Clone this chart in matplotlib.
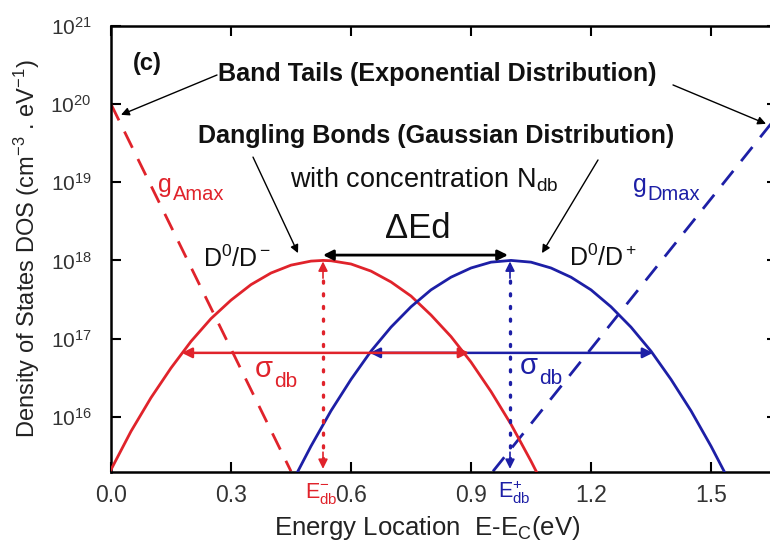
import matplotlib
matplotlib.use("Agg")
import matplotlib.pyplot as plt
from matplotlib.ticker import FixedLocator, NullLocator
from matplotlib.transforms import blended_transform_factory

plt.rcParams['font.family'] = ['Liberation Sans', 'DejaVu Sans']
plt.rcParams['mathtext.fontset'] = 'custom'
plt.rcParams['mathtext.rm'] = 'Liberation Sans'
plt.rcParams['mathtext.it'] = 'Liberation Sans'
plt.rcParams['mathtext.bf'] = 'Liberation Sans:bold'

RED = '#e0232b'
BLUE = '#1d1fa6'

# acceptor-like dangling bond band (D0/D-)
red_x = [0.00, 0.05, 0.10, 0.15, 0.20, 0.25, 0.30, 0.35, 0.40, 0.45, 0.50, 0.53,
         0.55, 0.60, 0.65, 0.70, 0.75, 0.80, 0.85, 0.90, 0.95, 1.00, 1.05, 1.07]
red_dos = [2.1e15, 6.5e15, 1.75e16, 4.2e16, 9.2e16, 1.8e17, 3.1e17, 4.9e17, 6.9e17,
           8.7e17, 9.8e17, 1.0e18, 9.9e17, 9.0e17, 7.3e17, 5.3e17, 3.5e17, 2.0e17,
           1.06e17, 5.0e16, 2.1e16, 8.0e15, 2.7e15, 1.7e15]

# donor-like dangling bond band (D0/D+)
blue_x = [0.46, 0.50, 0.55, 0.60, 0.65, 0.70, 0.75, 0.80, 0.85, 0.90, 0.95, 1.00,
          1.05, 1.10, 1.15, 1.20, 1.25, 1.30, 1.35, 1.40, 1.45, 1.50, 1.54]
blue_dos = [1.7e15, 4.2e15, 1.19e16, 3.0e16, 6.9e16, 1.4e17, 2.55e17, 4.2e17, 6.1e17,
            8.0e17, 9.5e17, 1.0e18, 9.5e17, 8.0e17, 6.1e17, 4.2e17, 2.55e17, 1.4e17,
            6.9e16, 3.0e16, 1.19e16, 4.2e15, 1.7e15]

# band tails (exponential)
tail_a_x = [0.0, 0.45]
tail_a_dos = [1.0e20, 2.0e15]
tail_d_x = [0.955, 1.665]
tail_d_dos = [2.0e15, 7.0e19]

e_db_minus = 0.53
e_db_plus = 0.9975
n_db = 1.0e18
bottom_dos = 2.15e15
delta_y = 1.17e18
sigma_y = 6.56e16
sigma_red = [0.177, 0.895]
sigma_blue = [0.647, 1.355]

x_ticks = [0.0, 0.3, 0.6, 0.9, 1.2, 1.5]
x_ticklabels = ['0.0', '0.3', '0.6', '0.9', '1.2', '1.5']
y_ticks = [1e16, 1e17, 1e18, 1e19, 1e20, 1e21]

fig = plt.figure(figsize=(7.7, 5.42), dpi=100)
ax = fig.add_axes([111 / 770, 70 / 542, 666 / 770, 446 / 542])
ax.set_yscale('log')
ax.set_xlim(0, 1.665)
ax.set_ylim(1.96e15, 1e21)

dash = (0, (6.5, 4.5))
ax.plot(red_x, red_dos, color=RED, lw=2.0, zorder=3)
ax.plot(blue_x, blue_dos, color=BLUE, lw=2.0, zorder=3)
ax.plot(tail_a_x, tail_a_dos, color=RED, lw=2.0, ls=dash, zorder=2)
ax.plot(tail_d_x, tail_d_dos, color=BLUE, lw=2.0, ls=dash, zorder=2)

# dotted verticals at the band centres with arrow heads
for x0, c in [(e_db_minus, RED), (e_db_plus, BLUE)]:
    ax.plot([x0, x0], [bottom_dos * 1.3, n_db * 0.8], color=c, lw=2.4,
            ls=(0, (0.6, 3.2)), dash_capstyle='round', zorder=4)
    ax.annotate('', xy=(x0, n_db * 0.97), xytext=(0, -12), textcoords='offset points',
                arrowprops=dict(arrowstyle='-|>', color=c, lw=1.2, mutation_scale=14,
                                shrinkA=0, shrinkB=0), zorder=5)
    ax.annotate('', xy=(x0, bottom_dos), xytext=(0, 12), textcoords='offset points',
                arrowprops=dict(arrowstyle='-|>', color=c, lw=1.2, mutation_scale=14,
                                shrinkA=0, shrinkB=0), zorder=5)

# sigma arrows
ax.annotate('', xy=(sigma_blue[0], sigma_y), xytext=(sigma_blue[1], sigma_y),
            arrowprops=dict(arrowstyle='<|-|>', color=BLUE, lw=1.8, mutation_scale=15,
                            shrinkA=0, shrinkB=0), zorder=4)
ax.annotate('', xy=(sigma_red[0], sigma_y), xytext=(sigma_red[1], sigma_y),
            arrowprops=dict(arrowstyle='<|-|>', color=RED, lw=1.8, mutation_scale=15,
                            shrinkA=0, shrinkB=0), zorder=5)

# Delta Ed arrow
ax.annotate('', xy=(e_db_minus, delta_y), xytext=(e_db_plus - 0.005, delta_y),
            arrowprops=dict(arrowstyle='<|-|>', color='black', lw=2.0, mutation_scale=15,
                            shrinkA=0, shrinkB=0), zorder=6)

# texts
ink = '#111111'
ax.text(0.055, 2.74e20, '(c)', fontsize=17, fontweight='bold', color=ink)
ax.text(0.2675, 1.95e20, 'Band Tails (Exponential Distribution)', fontsize=18.1,
        fontweight='bold', color=ink)
ax.text(0.2175, 3.2e19, 'Dangling Bonds (Gaussian Distribution)', fontsize=18.1,
        fontweight='bold', color=ink)
ax.text(0.4475, 8.7e18, 'with concentration N$_{\\rm db}$', fontsize=19.5, color=ink)
ax.text(0.768, 1.94e18, '\u0394Ed', fontsize=25, color=ink, ha='center')
ax.text(0.23, 8.2e17, 'D$^0$/D$^-$', fontsize=18, color=ink)
ax.text(1.145, 8.6e17, 'D$^0$/D$^+$', fontsize=18, color=ink)


def sub_label(x, y, main, sub, color, size_main, size_sub, dx, dy):
    ax.text(x, y, main, fontsize=size_main, color=color)
    ax.annotate(sub, xy=(x, y), xytext=(dx, dy), textcoords='offset points',
                fontsize=size_sub, color=color)


sub_label(0.1175, 7.6e18, 'g', 'Amax', RED, 18, 14.5, 10.5, -6)
sub_label(1.305, 7.6e18, 'g', 'Dmax', BLUE, 18, 14.5, 10.5, -6)
sub_label(0.36, 3.2e16, '\u03c3', 'db', RED, 21, 15, 14, -7)
sub_label(1.0225, 3.5e16, '\u03c3', 'db', BLUE, 21, 15, 14, -7)

arrow_kw = dict(arrowstyle='-|>', color='black', lw=1.0, mutation_scale=12,
                shrinkA=0, shrinkB=0)
ax.annotate('', xy=(0.025, 7.3e19), xytext=(0.265, 2.36e20), arrowprops=arrow_kw)
ax.annotate('', xy=(1.6375, 5.6e19), xytext=(1.405, 1.76e20), arrowprops=arrow_kw)
ax.annotate('', xy=(0.4675, 1.24e18), xytext=(0.355, 2.1e19), arrowprops=arrow_kw)
ax.annotate('', xy=(1.0775, 1.24e18), xytext=(1.2175, 1.93e19), arrowprops=arrow_kw)

# E_db labels sitting among the tick labels
trans = blended_transform_factory(ax.transData, ax.transAxes)
ax.text(e_db_minus - 0.005, -0.058, 'E$_{\\rm db}^{-}$', transform=trans, fontsize=15.5,
        color=RED, ha='center', va='baseline')
ax.text(e_db_plus + 0.012, -0.058, 'E$_{\\rm db}^{+}$', transform=trans, fontsize=15.5,
        color=BLUE, ha='center', va='baseline')

# axes styling
ax.xaxis.set_major_locator(FixedLocator(x_ticks))
ax.set_xticklabels(x_ticklabels)
ax.yaxis.set_major_locator(FixedLocator(y_ticks))
ax.yaxis.set_minor_locator(NullLocator())
ax.xaxis.set_minor_locator(NullLocator())
ax.tick_params(which='major', direction='in', top=True, right=True, length=7,
               width=1.5, labelcolor='#333333')
ax.tick_params(axis='x', pad=9, labelsize=16.5)
ax.tick_params(axis='y', pad=14, labelsize=15)
for s in ax.spines.values():
    s.set_linewidth(1.8)

ax.set_xlabel('Energy Location  E-E$_{\\rm C}$(eV)', fontsize=18.5, color='#222222')
ax.xaxis.set_label_coords(316 / 666, -0.094)
ax.set_ylabel('Density of States DOS (cm$^{-3}$ . eV$^{-1}$)', fontsize=17,
              color='#222222', labelpad=6)

fig.savefig('out.png', dpi=100, facecolor='white')
